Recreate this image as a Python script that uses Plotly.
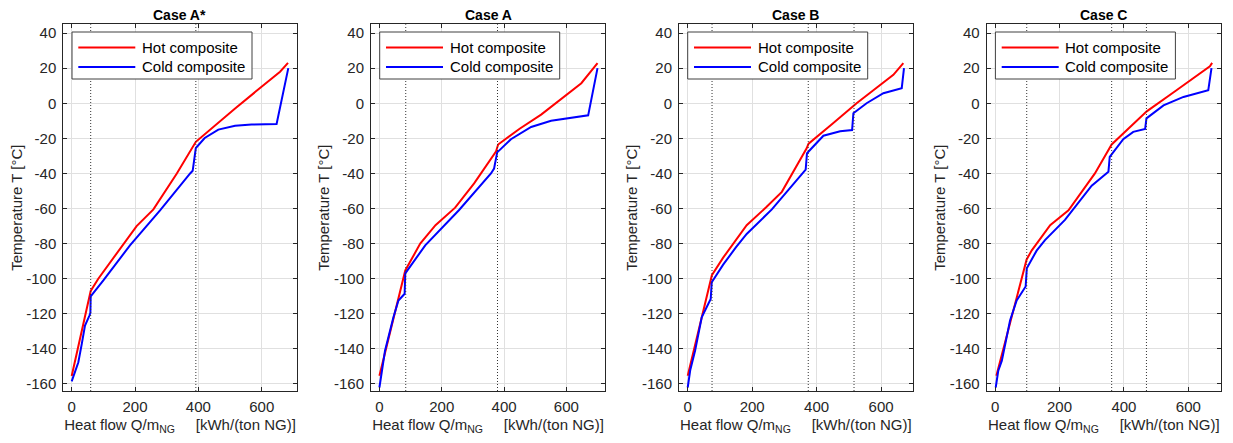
import plotly.graph_objects as go

# ---------------- data ----------------
case_names = ["Case A*", "Case A", "Case B", "Case C"]

hot_q_astar = [0, 60, 84, 163, 205, 258, 332, 392, 450, 516, 580, 658, 683]
hot_t_astar = [-155.4, -107, -100, -80, -70, -60.5, -40, -22, -13, -3, 6.5, 18, 23]
cold_q_astar = [0, 7, 21, 32, 42, 56, 59, 60, 100, 184, 279, 374, 382, 392, 405, 420, 463, 516, 568, 647, 684]
cold_t_astar = [-158.5, -154.5, -147.6, -137, -126.7, -121, -119.5, -110, -101, -81, -61, -40, -38.5, -25.5, -23, -19.8, -15, -12.8, -12.1, -11.8, 20]
pinch_astar = [60, 392]

hot_q_a = [0, 45, 83, 131, 180, 243, 304, 374, 381, 450, 519, 648, 700]
hot_t_a = [-155.3, -122, -95.3, -80, -69.5, -59.5, -45.7, -27.6, -23.5, -14.5, -6.5, 11.4, 22.9]
cold_q_a = [0, 7, 18, 45, 61, 81, 83, 147, 255, 358, 368, 378, 422, 487, 551, 670, 700]
cold_t_a = [-162, -154, -141, -122, -112.4, -108.6, -97, -81, -61, -40, -37.2, -28, -20.5, -13.5, -10, -6.9, 20]
pinch_a = [84.5, 379]

hot_q_b = [0, 75, 110, 150, 183, 245, 292, 369, 375, 450, 524, 580, 638, 669]
hot_t_b = [-155.3, -98, -88, -77.5, -69.5, -59, -50.5, -25.7, -23, -11.5, 0, 8, 16.2, 22.9]
cold_q_b = [0, 8, 23, 43.5, 64, 71.4, 74.6, 110, 150, 183, 261, 354, 366, 370, 375, 421, 473, 510, 514, 555, 607, 664, 671]
cold_t_b = [-162, -152, -141, -122, -114.3, -111.5, -102, -92, -82, -74.5, -60.5, -40, -37.8, -28.6, -27.5, -18.5, -16, -15.3, -5.7, 0, 5.7, 8.6, 20]
pinch_b = [75.5, 374, 516]

hot_q_c = [4, 98, 114, 171, 228, 310, 362, 420, 471, 560, 667, 674]
hot_t_c = [-155.3, -89, -83.8, -69.5, -61, -40, -23.5, -13.6, -4.6, 7, 21, 23]
cold_q_c = [2, 10, 21, 46.5, 67, 95, 98.5, 129, 155, 217, 300, 352, 356, 362, 398, 429, 466, 470, 523, 585, 662, 672]
cold_t_c = [-162, -152.4, -146.7, -123.8, -112.4, -104.4, -94, -84, -78, -66.5, -47, -39, -30.5, -29, -20.5, -16.3, -14.6, -8.6, -1.2, 3.6, 7.5, 20]
pinch_c = [98.3, 362, 470]

x_ticks = [0, 200, 400, 600]
y_ticks = [-160, -140, -120, -100, -80, -60, -40, -20, 0, 20, 40]

hot_label = "Hot composite"
cold_label = "Cold composite"
x_title = "Heat flow Q/m<sub>NG</sub>\u00a0\u00a0\u00a0\u00a0\u00a0[kWh/(ton NG)]"
y_title = "Temperature T [°C]"

cases = [
    (hot_q_astar, hot_t_astar, cold_q_astar, cold_t_astar, pinch_astar),
    (hot_q_a, hot_t_a, cold_q_a, cold_t_a, pinch_a),
    (hot_q_b, hot_t_b, cold_q_b, cold_t_b, pinch_b),
    (hot_q_c, hot_t_c, cold_q_c, cold_t_c, pinch_c),
]

# ---------------- layout settings ----------------
W, H = 1233, 443
x_domains = [(63.3, 296.7), (371.0, 605.0), (679.0, 912.7), (986.7, 1221.0)]
x_ranges = [(-26.5, 710.5), (-27, 724), (-27, 698), (-26, 701.5)]
y_range = (-164, 45)
plot_top, plot_bot = 24.3, 391.0

FONT = "Liberation Sans, Arial, sans-serif"
FS = 15
TXT = "#262626"
GRID = "#e0e0e0"
AXC = "#262626"

# legend geometry in pixels relative to each plot's left edge / top
LEG_L, LEG_R, LEG_T, LEG_B = 8.7, 188.7, 32.0, 79.0
SAMPLE_L, SAMPLE_R, LEG_TXT = 15.0, 72.0, 76.5
ROW1, ROW2 = 47.5, 67.0


def px(xp):
    return xp / W


def py(yp):
    return 1 - yp / H


fig = go.Figure()
layout = dict(
    width=W, height=H, margin=dict(l=0, r=0, t=0, b=0),
    paper_bgcolor="white", plot_bgcolor="white",
    showlegend=False, font=dict(family=FONT, size=FS, color=TXT),
)
shapes = []
annotations = []

for i, (hq, ht, cq, ct, pinch) in enumerate(cases):
    n = i + 1
    xa = "x" if n == 1 else f"x{n}"
    ya = "y" if n == 1 else f"y{n}"
    xkey = "xaxis" if n == 1 else f"xaxis{n}"
    ykey = "yaxis" if n == 1 else f"yaxis{n}"

    fig.add_trace(go.Scatter(x=hq, y=ht, mode="lines", name=hot_label,
                             line=dict(color="#ff0000", width=2), xaxis=xa, yaxis=ya))
    fig.add_trace(go.Scatter(x=cq, y=ct, mode="lines", name=cold_label,
                             line=dict(color="#0000ff", width=2), xaxis=xa, yaxis=ya))

    d0, d1 = x_domains[i]
    layout[xkey] = dict(
        domain=[d0 / W, d1 / W], range=list(x_ranges[i]), anchor=ya,
        tickvals=x_ticks, ticktext=[str(v) for v in x_ticks],
        showgrid=True, gridcolor=GRID, gridwidth=1, zeroline=False,
        showline=True, linecolor=AXC, linewidth=1, mirror="ticks",
        ticks="inside", ticklen=4, tickcolor=AXC,
        tickfont=dict(family=FONT, size=FS, color=TXT), ticklabelstandoff=2,
        title=dict(text=x_title, font=dict(family=FONT, size=FS, color=TXT), standoff=5),
        automargin=False,
    )
    layout[ykey] = dict(
        domain=[1 - plot_bot / H, 1 - plot_top / H], range=list(y_range), anchor=xa,
        tickvals=y_ticks, ticktext=[str(v) for v in y_ticks],
        showgrid=True, gridcolor=GRID, gridwidth=1, zeroline=False,
        showline=True, linecolor=AXC, linewidth=1, mirror="ticks",
        ticks="inside", ticklen=4, tickcolor=AXC,
        tickfont=dict(family=FONT, size=FS, color=TXT), ticklabelstandoff=3,
        title=dict(text=y_title, font=dict(family=FONT, size=FS, color=TXT), standoff=0),
        automargin=False,
    )

    # pinch lines
    for p in pinch:
        shapes.append(dict(type="line", xref=xa, yref=f"{ya} domain", x0=p, x1=p, y0=0, y1=1,
                           line=dict(color="#333333", width=1, dash="1px,2px"), layer="above"))

    # title
    annotations.append(dict(text=f"<b>{case_names[i]}</b>", xref="paper", yref="paper",
                            x=px((d0 + d1) / 2), y=py(15), xanchor="center", yanchor="middle",
                            showarrow=False, font=dict(family=FONT, size=14, color="#000000")))

    # legend box
    shapes.append(dict(type="rect", xref="paper", yref="paper",
                       x0=px(d0 + LEG_L), x1=px(d0 + LEG_R), y0=py(LEG_B), y1=py(LEG_T),
                       line=dict(color="#404040", width=1), fillcolor="white", layer="above"))
    shapes.append(dict(type="line", xref="paper", yref="paper",
                       x0=px(d0 + SAMPLE_L), x1=px(d0 + SAMPLE_R), y0=py(ROW1), y1=py(ROW1),
                       line=dict(color="#ff0000", width=2), layer="above"))
    shapes.append(dict(type="line", xref="paper", yref="paper",
                       x0=px(d0 + SAMPLE_L), x1=px(d0 + SAMPLE_R), y0=py(ROW2), y1=py(ROW2),
                       line=dict(color="#0000ff", width=2), layer="above"))
    annotations.append(dict(text=hot_label, xref="paper", yref="paper", x=px(d0 + LEG_TXT), y=py(ROW1),
                            xanchor="left", yanchor="middle", showarrow=False,
                            font=dict(family=FONT, size=FS, color="#000000")))
    annotations.append(dict(text=cold_label, xref="paper", yref="paper", x=px(d0 + LEG_TXT), y=py(ROW2),
                            xanchor="left", yanchor="middle", showarrow=False,
                            font=dict(family=FONT, size=FS, color="#000000")))

layout["shapes"] = shapes
layout["annotations"] = annotations
fig.update_layout(**layout)
fig.write_html("out.html")
